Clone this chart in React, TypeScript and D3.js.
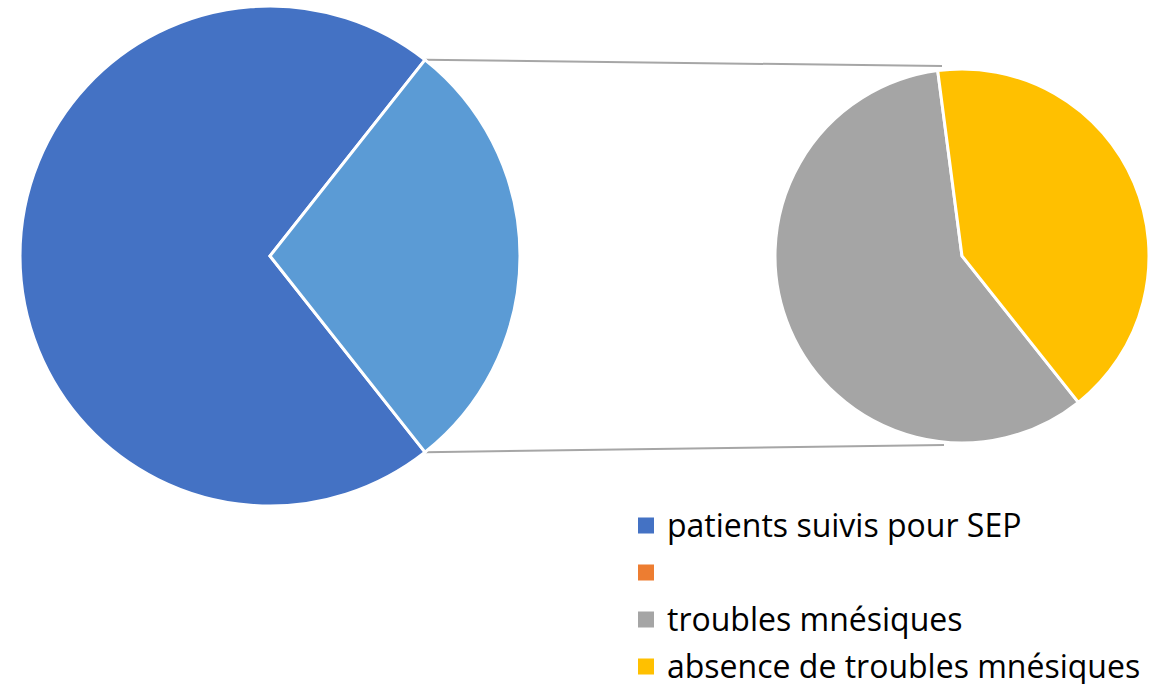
import React from 'react';
import * as d3 from 'd3';

// main pie: SEP patients vs the "other" slice that gets split in the secondary pie
const mainLabels = ['patients suivis pour SEP', ''];
const mainValues = [72, 29];
const subLabels = ['troubles mnésiques', 'absence de troubles mnésiques'];
const subValues = [17, 12];
const legendLabels = ['patients suivis pour SEP', '', 'troubles mnésiques', 'absence de troubles mnésiques'];
const legendColors = ['#4472C4', '#ED7D31', '#A5A5A5', '#FFC000'];

const W = 1170;
const H = 684;
const main = { cx: 270, cy: 256, r: 250 };
const sub = { cx: 962, cy: 256, r: 187 };

const App = () => {
  const total = d3.sum(mainValues);
  const otherAngle = (mainValues[1] / total) * 2 * Math.PI;
  // other slice centred on the right side
  const mainStart = Math.PI / 2 + otherAngle / 2;
  const mainPie = d3.pie<number>().sort(null).startAngle(mainStart).endAngle(mainStart + 2 * Math.PI);
  const mainArcs = mainPie(mainValues);
  const mainArc = d3.arc<d3.PieArcDatum<number>>().innerRadius(0).outerRadius(main.r);

  const subStart = (141.5 / 180) * Math.PI;
  const subPie = d3.pie<number>().sort(null).startAngle(subStart).endAngle(subStart + 2 * Math.PI);
  const subArcs = subPie(subValues);
  const subArc = d3.arc<d3.PieArcDatum<number>>().innerRadius(0).outerRadius(sub.r);

  const mainColors = ['#4472C4', '#5B9BD5'];
  const subColors = ['#A5A5A5', '#FFC000'];

  // connector lines from the edges of the other slice to the secondary pie
  const topEdge = Math.PI / 2 - otherAngle / 2;
  const botEdge = Math.PI / 2 + otherAngle / 2;
  const p = (a: number, r: number, c: { cx: number; cy: number }) => [c.cx + r * Math.sin(a), c.cy - r * Math.cos(a)];
  const t0 = p(topEdge, main.r, main);
  const b0 = p(botEdge, main.r, main);
  const t1 = [sub.cx - 20, sub.cy - sub.r - 3];
  const b1 = [sub.cx - 18, sub.cy + sub.r + 2];

  const legendY = d3.scaleBand<number>().domain(d3.range(legendLabels.length)).range([502, 690]);

  return (
    <svg width={W} height={H} style={{ position: 'absolute', left: 0, top: 0, background: '#fff' }}>
      <line x1={t0[0]} y1={t0[1]} x2={t1[0]} y2={t1[1]} stroke="#A6A6A6" strokeWidth={2} />
      <line x1={b0[0]} y1={b0[1]} x2={b1[0]} y2={b1[1]} stroke="#A6A6A6" strokeWidth={2} />
      <g transform={`translate(${main.cx},${main.cy})`}>
        {mainArcs.map((d, i) => (
          <path key={i} d={mainArc(d) || ''} fill={mainColors[i]} stroke="#fff" strokeWidth={3}>
            <title>{mainLabels[i]}</title>
          </path>
        ))}
      </g>
      <g transform={`translate(${sub.cx},${sub.cy})`}>
        {subArcs.map((d, i) => (
          <path key={i} d={subArc(d) || ''} fill={subColors[i]} stroke="#fff" strokeWidth={3}>
            <title>{subLabels[i]}</title>
          </path>
        ))}
      </g>
      <g fontFamily="'Open Sans', sans-serif" fontSize={32} fill="#000">
        {legendLabels.map((l, i) => {
          const y = (legendY(i) || 0) + legendY.bandwidth() / 2;
          return (
            <g key={i}>
              <rect x={638} y={y - 8} width={16} height={16} fill={legendColors[i]} />
              <text x={667} y={y} dy="0.35em">{l}</text>
            </g>
          );
        })}
      </g>
    </svg>
  );
};

export default App;
